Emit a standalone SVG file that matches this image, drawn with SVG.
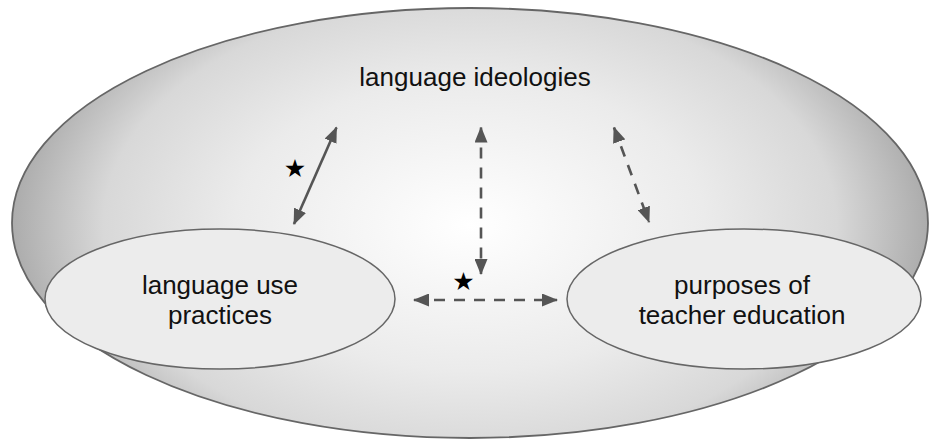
<svg xmlns="http://www.w3.org/2000/svg" width="940" height="440" viewBox="0 0 940 440">
  <defs>
    <radialGradient id="bg" gradientUnits="userSpaceOnUse" cx="470" cy="225" r="470" gradientTransform="translate(470,225) scale(1,0.62) translate(-470,-225)">
      <stop offset="0" stop-color="#ffffff"/>
      <stop offset="0.5" stop-color="#ebebeb"/>
      <stop offset="0.78" stop-color="#d8d8d8"/>
      <stop offset="1" stop-color="#a6a6a6"/>
    </radialGradient>
    <marker id="ah" viewBox="0 0 16 13" refX="15" refY="6.5" markerWidth="16" markerHeight="13" markerUnits="userSpaceOnUse" orient="auto-start-reverse">
      <path d="M0,0 L16,6.5 L0,13 z" fill="#555555"/>
    </marker>
    <style>
      .lbl { font-family: "Liberation Sans", Arial, sans-serif; font-size: 26px; fill: #111111; text-anchor: middle; }
      .star { font-family: "DejaVu Sans", sans-serif; font-size: 25px; fill: #000000; text-anchor: middle; }
      .conn { stroke: #555555; stroke-width: 2.6; fill: none; marker-start: url(#ah); marker-end: url(#ah); }
      .dash { stroke-dasharray: 11 9; }
      .small { fill: #ececec; stroke: #666666; stroke-width: 1.5; }
    </style>
  </defs>
  <rect width="940" height="440" fill="#ffffff"/>
  <g id="language-ideologies">
    <ellipse cx="470" cy="223" rx="458" ry="215" fill="url(#bg)" stroke="#666666" stroke-width="1.8"/>
    <text class="lbl" x="475" y="86">language ideologies</text>
  </g>
  <g id="language-use-practices">
    <ellipse class="small" cx="220" cy="299" rx="175" ry="70"/>
    <text class="lbl" x="220" y="294">language use</text>
    <text class="lbl" x="220" y="324">practices</text>
  </g>
  <g id="purposes-of-teacher-education">
    <ellipse class="small" cx="744" cy="299" rx="177" ry="70"/>
    <text class="lbl" x="742" y="294">purposes of</text>
    <text class="lbl" x="742" y="324">teacher education</text>
  </g>
  <g id="connectors">
    <line class="conn" x1="294" y1="224" x2="336.5" y2="127.5"/>
    <line class="conn dash" x1="481" y1="127.5" x2="481" y2="274"/>
    <line class="conn dash" x1="614" y1="127.5" x2="649" y2="222"/>
    <line class="conn dash" x1="414" y1="300" x2="557" y2="300"/>
    <text class="star" x="295" y="177">★</text>
    <text class="star" x="463.5" y="290">★</text>
  </g>
</svg>
